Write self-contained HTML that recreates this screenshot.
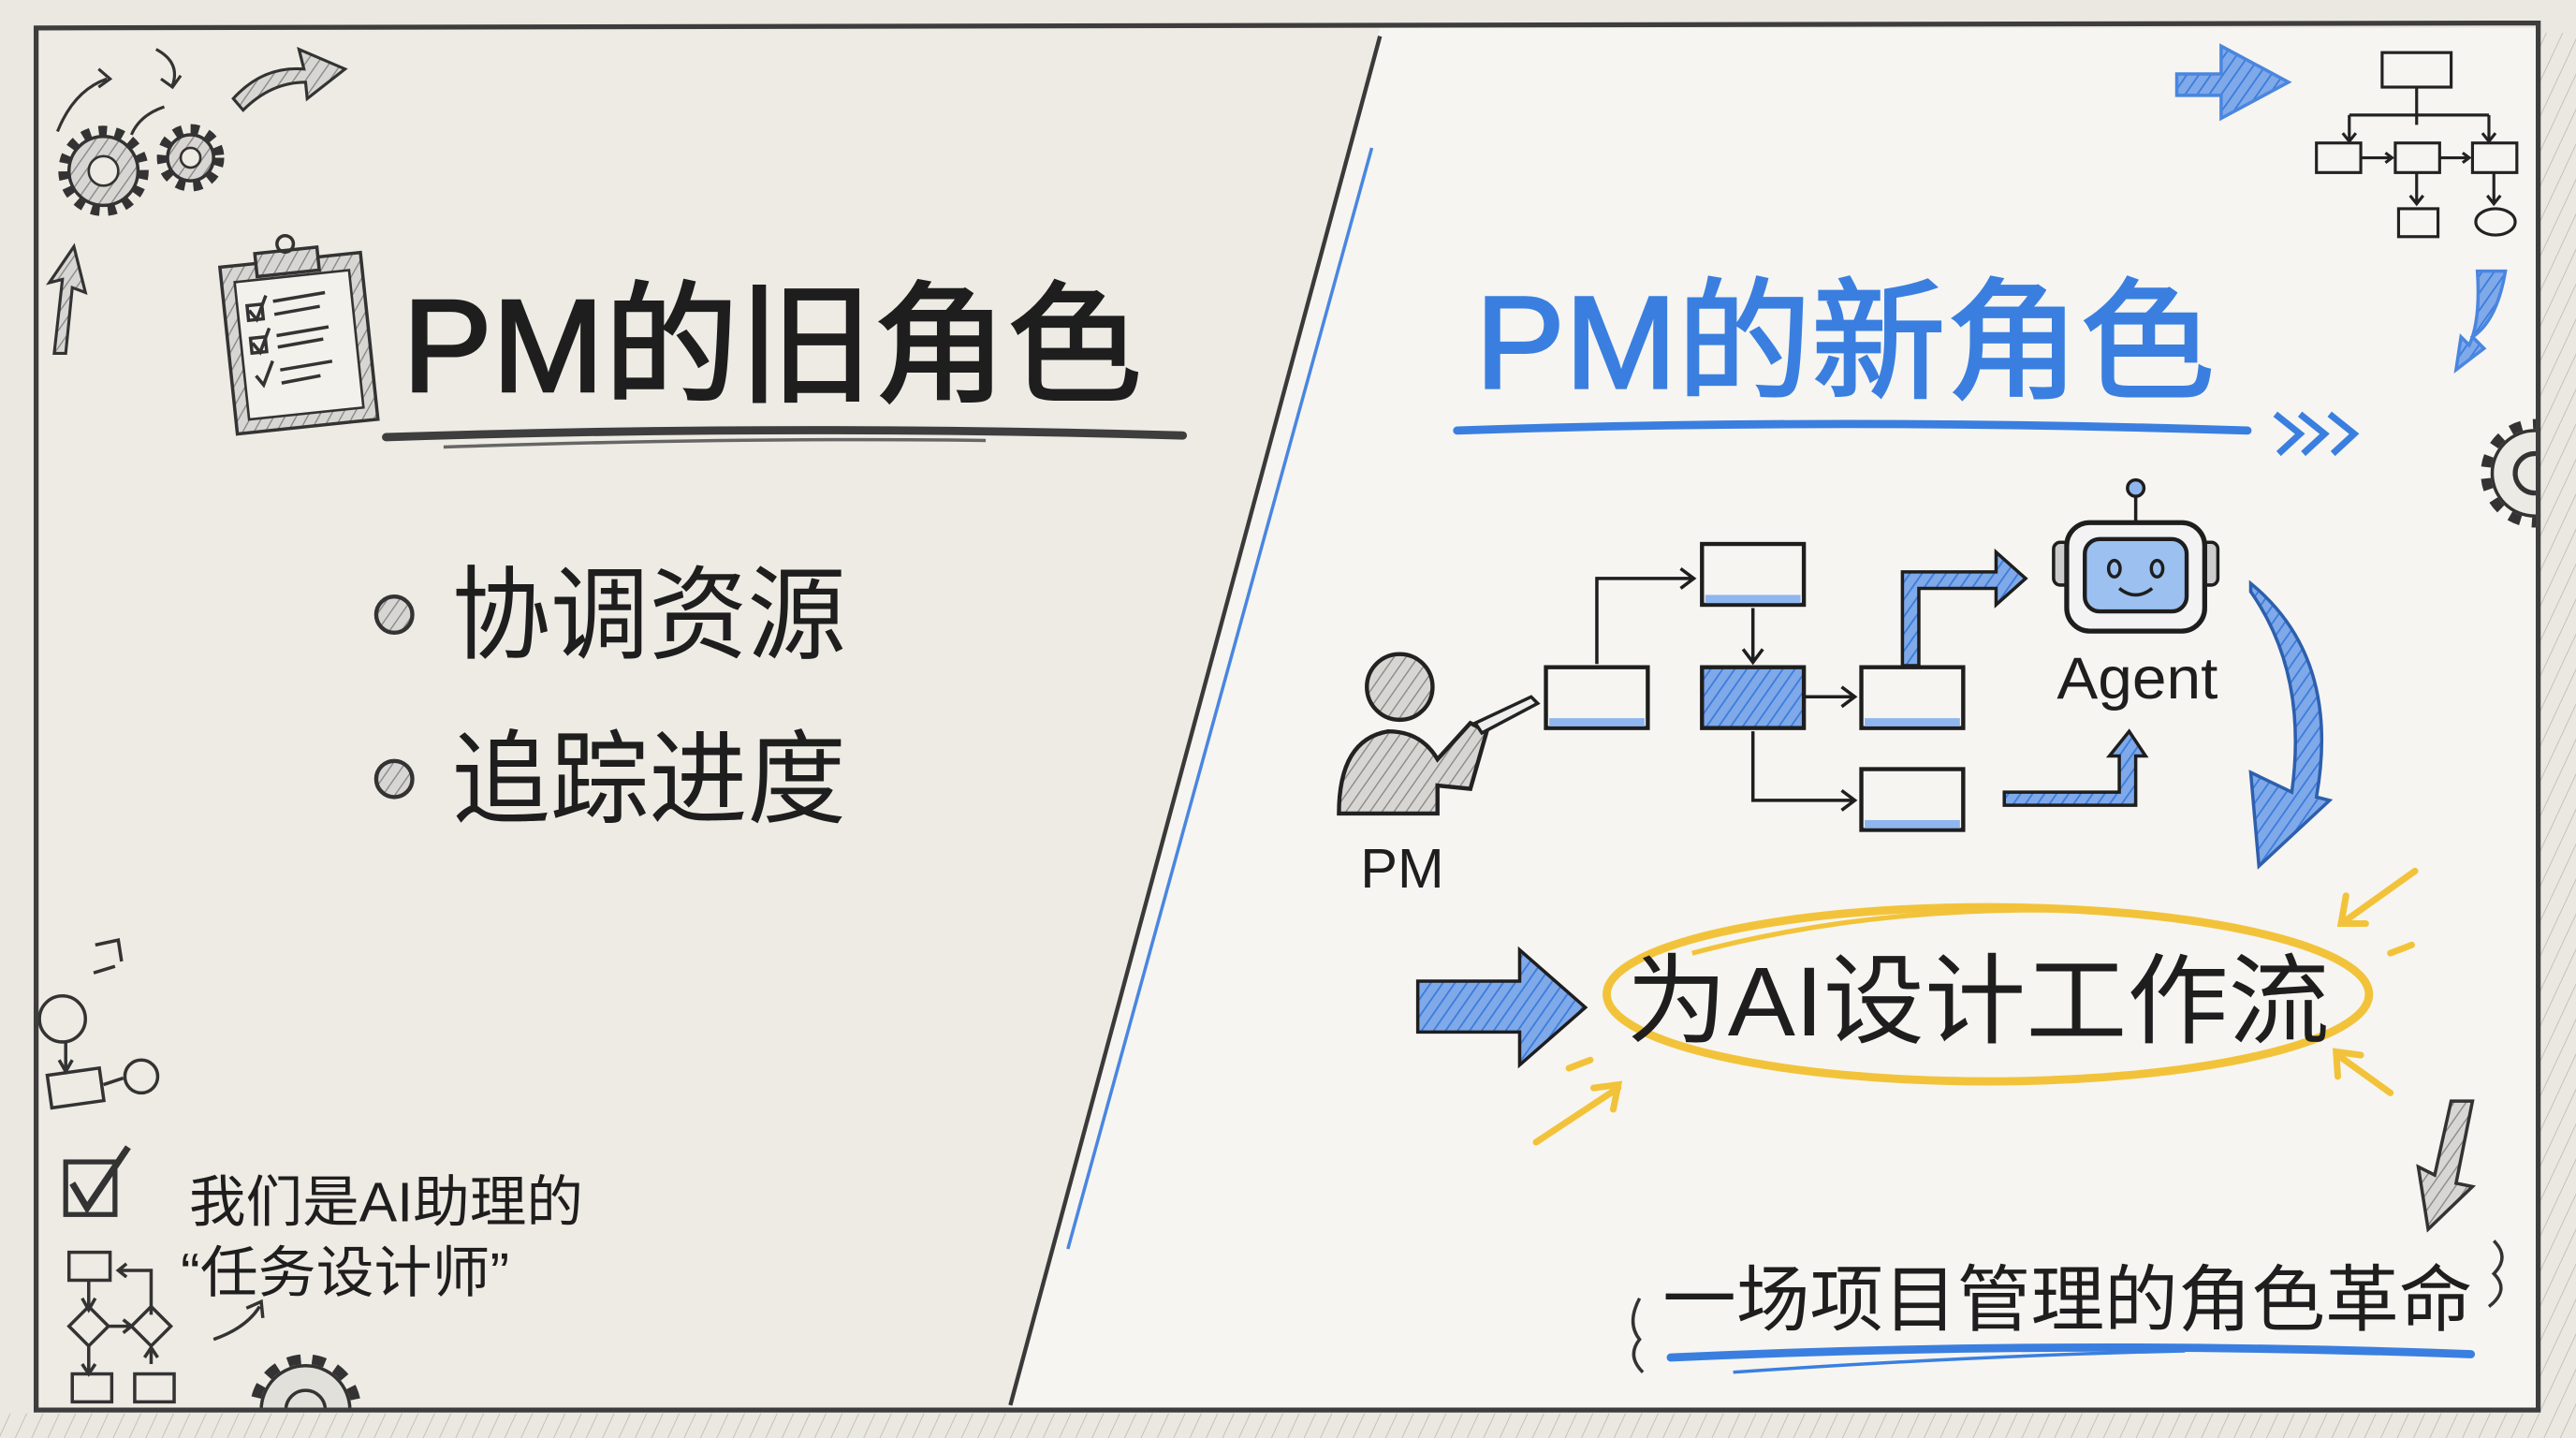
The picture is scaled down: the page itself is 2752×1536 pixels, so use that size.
<!DOCTYPE html>
<html><head><meta charset="utf-8"><style>
html,body{margin:0;padding:0;background:#ebe8e1;}
svg{display:block}
text{font-family:"Liberation Sans","Noto Sans CJK SC",sans-serif;}
</style></head><body>
<svg width="2752" height="1536" viewBox="0 0 1568 875" preserveAspectRatio="none" xmlns="http://www.w3.org/2000/svg">
<defs>
<pattern id="hg" width="6" height="6" patternUnits="userSpaceOnUse" patternTransform="rotate(35)"><rect width="6" height="6" fill="#d8d6d2"/><line x1="0" y1="0" x2="0" y2="6" stroke="#8a8a8a" stroke-width="1.6"/></pattern>
<pattern id="hb" width="6" height="6" patternUnits="userSpaceOnUse" patternTransform="rotate(35)"><rect width="6" height="6" fill="#7fa9e8"/><line x1="0" y1="0" x2="0" y2="6" stroke="#3a7bdc" stroke-width="2"/></pattern>
<pattern id="hout" width="9" height="9" patternUnits="userSpaceOnUse" patternTransform="rotate(25)"><rect width="9" height="9" fill="#ebe8e1"/><line x1="0" y1="0" x2="0" y2="9" stroke="#b5b2ac" stroke-width="0.8"/></pattern>
<clipPath id="cpR"><rect x="1480" y="200" width="65" height="150"/></clipPath>
<clipPath id="cpB"><rect x="130" y="800" width="120" height="58"/></clipPath>
</defs>
<rect width="1568" height="875" fill="#ebe8e1"/>
<rect x="0" y="860" width="1568" height="15" fill="url(#hout)"/>
<rect x="1546" y="20" width="22" height="855" fill="url(#hout)"/>
<!-- panels -->
<rect x="22" y="17" width="1523" height="841" fill="#f6f5f1"/>
<polygon points="22,17 840,17 615,858 22,858" fill="#eeebe4"/>
<line x1="840" y1="22" x2="615" y2="855" stroke="#3a3a3a" stroke-width="2.5"/>
<line x1="835" y1="90" x2="650" y2="760" stroke="#4a86e0" stroke-width="2"/>
<!-- top-left gears and arrows -->
<g fill="none" stroke="#333" stroke-width="7" stroke-dasharray="5 5"><circle cx="63" cy="104" r="24"/><circle cx="116" cy="96" r="17"/></g>
<g stroke="#333" stroke-width="2" fill="url(#hg)">
<circle cx="63" cy="104" r="21"/><circle cx="116" cy="96" r="14"/>
</g>
<g fill="#eeebe4" stroke="#333" stroke-width="1.5"><circle cx="63" cy="104" r="9"/><circle cx="116" cy="96" r="6"/></g>
<g fill="none" stroke="#333" stroke-width="1.8">
<path d="M35,80 Q45,55 65,48 M60,42 L67,48 L60,53"/>
<path d="M95,30 Q110,38 105,52 M98,48 L105,53 L110,46"/>
<path d="M100,65 Q85,70 80,82"/>
</g>
<path d="M142,60 Q160,40 185,42 L182,30 L210,42 L187,60 L186,50 Q165,50 148,67 Z" fill="url(#hg)" stroke="#333" stroke-width="1.8"/>
<path d="M33,215 L38,170 L30,172 L45,150 L52,178 L44,175 L40,215 Z" fill="url(#hg)" stroke="#333" stroke-width="1.8"/>
<!-- clipboard -->
<g transform="rotate(-6 180 200)">
<rect x="138" y="158" width="86" height="102" fill="url(#hg)" stroke="#333" stroke-width="2"/>
<rect x="146" y="168" width="70" height="84" fill="#f3f1ec" stroke="#333" stroke-width="1.5"/>
<rect x="160" y="152" width="38" height="14" fill="url(#hg)" stroke="#333" stroke-width="2"/>
<circle cx="179" cy="148" r="5" fill="none" stroke="#333" stroke-width="2"/>
<g stroke="#333" stroke-width="2" fill="none">
<rect x="152" y="183" width="9" height="9"/><path d="M153,186 L157,192 L164,178"/><path d="M168,182 L200,180 M168,190 L196,188"/>
<rect x="152" y="203" width="9" height="9"/><path d="M153,206 L157,212 L164,198"/><path d="M168,203 L200,201 M168,210 L196,208"/>
<path d="M153,226 L157,232 L164,218"/><path d="M168,224 L200,222 M168,232 L192,230"/>
</g></g>
<!-- titles -->
<text x="245" y="238" font-size="80" fill="#1e1e1e" stroke="#1e1e1e" stroke-width="1.6" textLength="450" lengthAdjust="spacingAndGlyphs">PM的旧角色</text>
<path d="M235,266 Q480,258 720,265" stroke="#3e3e3e" stroke-width="5" fill="none" stroke-linecap="round"/>
<path d="M270,272 Q450,266 600,268" stroke="#666" stroke-width="2" fill="none"/>
<text x="898" y="236" font-size="80" fill="#3a7fe0" stroke="#3a7fe0" stroke-width="1.6" textLength="450" lengthAdjust="spacingAndGlyphs">PM的新角色</text>
<path d="M887,262 Q1120,254 1368,262" stroke="#3a7fe0" stroke-width="5" fill="none" stroke-linecap="round"/>
<path d="M1385,252 L1400,264 L1387,276 M1400,252 L1415,264 L1402,276 M1418,252 L1433,264 L1420,276" stroke="#3a7fe0" stroke-width="4" fill="none"/>
<!-- bullets -->
<circle cx="240" cy="374" r="11" fill="url(#hg)" stroke="#333" stroke-width="2.5"/>
<circle cx="240" cy="474" r="11" fill="url(#hg)" stroke="#333" stroke-width="2.5"/>
<text x="275" y="396" font-size="62" fill="#1e1e1e" textLength="240" lengthAdjust="spacingAndGlyphs">协调资源</text>
<text x="275" y="496" font-size="62" fill="#1e1e1e" textLength="240" lengthAdjust="spacingAndGlyphs">追踪进度</text>
<!-- top right -->
<path d="M1325,45 L1352,45 L1352,28 L1393,50 L1352,72 L1352,58 L1325,58 Z" fill="url(#hb)" stroke="#4a86e0" stroke-width="2"/>
<g fill="none" stroke="#222" stroke-width="1.8">
<rect x="1450" y="32" width="42" height="21"/><path d="M1471,53 V76 M1430,70 H1515 M1430,70 V85 M1515,70 V85 M1426,81 L1430,86 L1434,81 M1511,81 L1515,86 L1519,81"/>
<rect x="1410" y="87" width="27" height="18"/><rect x="1458" y="87" width="27" height="18"/><rect x="1505" y="87" width="27" height="18"/>
<path d="M1437,96 H1456 M1452,93 L1456,96 L1452,99 M1485,96 H1503 M1499,93 L1503,96 L1499,99 M1471,105 V123 M1467,119 L1471,124 L1475,119 M1518,105 V123 M1514,119 L1518,124 L1522,119"/>
<rect x="1460" y="127" width="24" height="17"/><ellipse cx="1519" cy="135" rx="12" ry="8"/>
</g>
<path d="M1525,165 Q1520,195 1505,205 L1512,212 L1495,225 L1498,205 L1503,210 Q1510,195 1508,165 Z" fill="url(#hb)" stroke="#4a86e0" stroke-width="2"/>
<g clip-path="url(#cpR)">
<circle cx="1543" cy="288" r="30" fill="none" stroke="#333" stroke-width="6" stroke-dasharray="7 7"/>
<circle cx="1543" cy="288" r="26" fill="#eceae5" stroke="#333" stroke-width="2"/>
<circle cx="1543" cy="288" r="12" fill="none" stroke="#333" stroke-width="3"/>
</g>
<!-- PM figure -->
<circle cx="852" cy="418" r="20" fill="url(#hg)" stroke="#222" stroke-width="2.5"/>
<path d="M815,495 Q815,450 845,445 Q865,445 875,462 L895,440 L905,445 L895,480 L875,478 L875,495 Z" fill="url(#hg)" stroke="#222" stroke-width="2.5"/>
<path d="M898,440 L932,424 L936,428 L902,446 Z" fill="#eee" stroke="#222" stroke-width="2"/>
<text x="828" y="540" font-size="34" fill="#1e1e1e">PM</text>
<!-- flow boxes -->
<g stroke="#1e1e1e" stroke-width="2.5">
<rect x="941" y="406" width="62" height="37" fill="#f6f5f1"/>
<rect x="1036" y="331" width="62" height="37" fill="#f6f5f1"/>
<rect x="1036" y="406" width="62" height="37" fill="url(#hb)"/>
<rect x="1133" y="406" width="62" height="37" fill="#f6f5f1"/>
<rect x="1133" y="468" width="62" height="37" fill="#f6f5f1"/>
</g>
<g fill="#8fb6ee"><rect x="943" y="437" width="58" height="5"/><rect x="1038" y="362" width="58" height="5"/><rect x="1135" y="437" width="58" height="5"/><rect x="1135" y="499" width="58" height="5"/></g>
<g fill="none" stroke="#1e1e1e" stroke-width="2">
<path d="M972,404 V352 H1030 M1023,346 L1031,352 L1023,358"/>
<path d="M1067,370 V402 M1061,395 L1067,403 L1073,395"/>
<path d="M1099,424 H1128 M1121,418 L1129,424 L1121,430"/>
<path d="M1067,445 V487 H1128 M1121,481 L1129,487 L1121,493"/>
</g>
<path d="M1158,405 V348 H1215 V336 L1233,352 L1215,368 V358 H1168 V405 Z" fill="url(#hb)" stroke="#1e1e1e" stroke-width="2"/>
<path d="M1220,482 H1290 V460 H1284 L1296,445 L1306,460 H1300 V490 H1220 Z" fill="url(#hb)" stroke="#1e1e1e" stroke-width="2"/>
<!-- robot -->
<line x1="1300" y1="302" x2="1300" y2="318" stroke="#1e1e1e" stroke-width="2"/>
<circle cx="1300" cy="297" r="5" fill="#8fb6ee" stroke="#1e1e1e" stroke-width="2"/>
<rect x="1250" y="330" width="10" height="26" rx="4" fill="#ccc" stroke="#1e1e1e" stroke-width="2"/>
<rect x="1340" y="330" width="10" height="26" rx="4" fill="#ccc" stroke="#1e1e1e" stroke-width="2"/>
<rect x="1258" y="318" width="84" height="66" rx="14" fill="#f3f3f3" stroke="#1e1e1e" stroke-width="3"/>
<rect x="1269" y="328" width="62" height="44" rx="9" fill="#9cc0f0" stroke="#1e1e1e" stroke-width="2.5"/>
<ellipse cx="1287" cy="346" rx="3.5" ry="5" fill="none" stroke="#1e1e1e" stroke-width="2"/>
<ellipse cx="1313" cy="346" rx="3.5" ry="5" fill="none" stroke="#1e1e1e" stroke-width="2"/>
<path d="M1290,358 Q1300,366 1310,358" fill="none" stroke="#1e1e1e" stroke-width="2"/>
<text x="1252" y="425" font-size="36" fill="#1e1e1e" textLength="98" lengthAdjust="spacingAndGlyphs">Agent</text>
<!-- big curved arrow -->
<path d="M1370,355 Q1425,400 1410,485 L1418,487 L1375,527 L1370,470 L1395,482 Q1405,410 1370,360 Z" fill="url(#hb)" stroke="#2d5fae" stroke-width="2"/>
<!-- highlight -->
<ellipse cx="1210" cy="605" rx="232" ry="53" fill="none" stroke="#f2c33a" stroke-width="5"/>
<path d="M1030,580 Q1150,548 1290,555" fill="none" stroke="#f2c33a" stroke-width="3"/>
<g stroke="#f2c33a" stroke-width="4" fill="none" stroke-linecap="round">
<path d="M1470,530 L1428,560 M1428,545 L1425,562 L1440,562"/>
<path d="M1455,665 L1423,642 M1423,655 L1422,640 L1437,642"/>
<path d="M935,695 L985,662 M970,662 L985,660 L982,675"/>
<path d="M955,650 L968,645 M1468,575 L1455,580"/>
</g>
<path d="M863,597 H925 V578 L965,613 L925,648 V628 H863 Z" fill="url(#hb)" stroke="#1e1e1e" stroke-width="2"/>
<text x="990" y="630" font-size="60" fill="#1e1e1e" textLength="428" lengthAdjust="spacingAndGlyphs">为AI设计工作流</text>
<!-- bottom right -->
<path d="M1505,670 L1495,720 L1505,722 L1478,748 L1472,710 L1482,715 L1492,670 Z" fill="url(#hg)" stroke="#333" stroke-width="2"/>
<path d="M998,790 Q990,805 998,815 Q990,825 1000,835 M1518,755 Q1528,765 1518,775 Q1528,785 1515,795" fill="none" stroke="#333" stroke-width="2"/>
<text x="1012" y="806" font-size="44" fill="#1e1e1e" textLength="493" lengthAdjust="spacingAndGlyphs">一场项目管理的角色革命</text>
<path d="M1017,826 Q1260,815 1504,824" stroke="#3a7fe0" stroke-width="5" fill="none" stroke-linecap="round"/>
<path d="M1055,835 Q1200,825 1330,822" stroke="#3a7fe0" stroke-width="2" fill="none"/>
<!-- bottom left -->
<g fill="none" stroke="#333" stroke-width="2">
<path d="M58,575 L72,572 L74,585 M57,592 L70,588"/>
<circle cx="38" cy="620" r="14"/><path d="M40,634 V650 M36,645 L40,652 L44,645"/>
<rect x="30" y="652" width="32" height="20" transform="rotate(-8 46 662)"/><path d="M63,660 L75,656"/><circle cx="86" cy="655" r="10"/>
<rect x="40" y="707" width="30" height="32" stroke-width="3"/><path d="M44,720 L53,735 L78,698" stroke-width="4"/>
<rect x="42" y="762" width="25" height="17"/><path d="M92,800 V773 H73 M77,769 L72,773 L77,777"/>
<path d="M54,779 V795 M50,790 L54,797 L58,790"/>
<path d="M54,795 L66,807 L54,819 L42,807 Z M92,795 L104,807 L92,819 L80,807 Z M66,807 H80 M75,803 L80,807 L75,811"/>
<path d="M54,819 V835 M50,830 L54,836 L58,830 M92,830 V821 M88,826 L92,820 L96,826"/>
<rect x="44" y="836" width="24" height="17"/><rect x="82" y="836" width="24" height="17"/>
<path d="M130,815 Q150,808 158,795 M150,796 L159,792 L160,802"/>
</g>
<g clip-path="url(#cpB)">
<circle cx="186" cy="858" r="31" fill="none" stroke="#333" stroke-width="6" stroke-dasharray="8 7"/>
<circle cx="186" cy="858" r="27" fill="#e2e0db" stroke="#333" stroke-width="2"/>
<circle cx="186" cy="858" r="12" fill="none" stroke="#333" stroke-width="2"/>
</g>
<!-- frame -->
<path d="M22,17 L1545,14 L1545,858 L22,858 Z" fill="none" stroke="#3d3d3d" stroke-width="3"/>
<text x="115" y="743" font-size="34" fill="#1e1e1e" textLength="240" lengthAdjust="spacingAndGlyphs">我们是AI助理的</text>
<text x="110" y="786" font-size="34" fill="#1e1e1e" textLength="200" lengthAdjust="spacingAndGlyphs">“任务设计师”</text>
</svg>
</body></html>
